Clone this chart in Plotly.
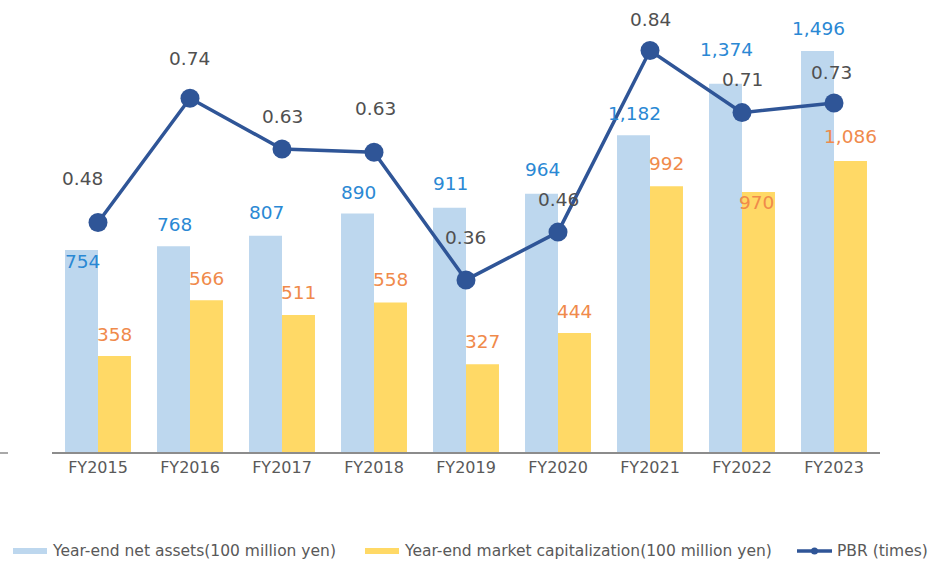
import plotly.graph_objects as go

categories = ["FY2015", "FY2016", "FY2017", "FY2018", "FY2019", "FY2020", "FY2021", "FY2022", "FY2023"]
net_assets = [754, 768, 807, 890, 911, 964, 1182, 1374, 1496]
market_cap = [358, 566, 511, 558, 327, 444, 992, 970, 1086]
pbr = [0.48, 0.74, 0.634, 0.627, 0.36, 0.46, 0.84, 0.71, 0.73]

net_label_yshift = [-12, 22, 23, 21, 24, 24, 22, 34, 23]
mkt_label_yshift = [22, 22, 23, 23, 23, 22, 23, -10, 24]
mkt_label_xshift = [16, 16, 16, 16, 16, 16, 16, 14, 16]
pbr_label_yshift = [44, 40, 32, 44, 42, 33, 31, 33, 31]
pbr_label_xshift = [-16, -1, 0, 1, -1, 0, 0, 0, -3]

FONT = "Verdana, DejaVu Sans, sans-serif"
C_NET = "#BDD7EE"
C_MKT = "#FFD966"
C_LINE = "#2F5597"
C_NET_TXT = "#2A88D4"
C_MKT_TXT = "#F08A4B"
C_PBR_TXT = "#505050"
C_AXIS_TXT = "#595959"

W, H = 932, 562
ML, MR, MT, MB = 52, 52, 10, 110
PW = W - ML - MR
PH = H - MT - MB

fig = go.Figure()
fig.add_trace(go.Bar(x=categories, y=net_assets, name="Year-end net assets(100 million yen)",
                     marker=dict(color=C_NET, line=dict(width=0)), showlegend=False))
fig.add_trace(go.Bar(x=categories, y=market_cap, name="Year-end market capitalization(100 million yen)",
                     marker=dict(color=C_MKT, line=dict(width=0)), showlegend=False))
fig.add_trace(go.Scatter(x=categories, y=pbr, name="PBR (times)", yaxis="y2", mode="lines+markers",
                         line=dict(color=C_LINE, width=3.5), marker=dict(color=C_LINE, size=19),
                         showlegend=False))

annotations = []
for c, v, ys in zip(categories, net_assets, net_label_yshift):
    annotations.append(dict(x=c, y=v, xref="x", yref="y", text=f"{v:,}", showarrow=False,
                            xshift=-16, yshift=ys, font=dict(family=FONT, size=18.5, color=C_NET_TXT)))
for c, v, ys, xs in zip(categories, market_cap, mkt_label_yshift, mkt_label_xshift):
    annotations.append(dict(x=c, y=v, xref="x", yref="y", text=f"{v:,}", showarrow=False,
                            xshift=xs, yshift=ys, font=dict(family=FONT, size=18.5, color=C_MKT_TXT)))
for c, v, ys, xs in zip(categories, pbr, pbr_label_yshift, pbr_label_xshift):
    annotations.append(dict(x=c, y=v, xref="x", yref="y2", text=f"{v:.2f}", showarrow=False,
                            xshift=xs, yshift=ys, font=dict(family=FONT, size=18.5, color=C_PBR_TXT)))


def px_x(px):
    return (px - ML) / PW


def px_y(py):
    return (H - MB - py) / PH


legend_y = 551
legend_items = [
    ("rect", 13, 47, 50, C_NET, "Year-end net assets(100 million yen)"),
    ("rect", 365, 399, 402, C_MKT, "Year-end market capitalization(100 million yen)"),
    ("line", 797, 832, 835, C_LINE, "PBR (times)"),
]
shapes = []
for kind, x0, x1, tx, col, label in legend_items:
    if kind == "rect":
        shapes.append(dict(type="rect", xref="paper", yref="paper", x0=px_x(x0), x1=px_x(x1),
                           y0=px_y(legend_y + 3), y1=px_y(legend_y - 3), fillcolor=col, line=dict(width=0)))
    else:
        shapes.append(dict(type="line", xref="paper", yref="paper", x0=px_x(x0), x1=px_x(x1),
                           y0=px_y(legend_y), y1=px_y(legend_y), line=dict(color=col, width=3.5)))
        mid = (x0 + x1) / 2
        shapes.append(dict(type="circle", xref="paper", yref="paper", x0=px_x(mid - 3.5), x1=px_x(mid + 3.5),
                           y0=px_y(legend_y + 3.5), y1=px_y(legend_y - 3.5), fillcolor=col, line=dict(width=0)))
    annotations.append(dict(x=px_x(tx), y=px_y(legend_y), xref="paper", yref="paper", text=label,
                            showarrow=False, xanchor="left", yanchor="middle",
                            font=dict(family=FONT, size=15.5, color=C_AXIS_TXT)))

# small stray tick at the far left edge of the original
shapes.append(dict(type="line", xref="paper", yref="paper", x0=px_x(0), x1=px_x(8),
                   y0=px_y(453), y1=px_y(453), line=dict(color="#8c8c8c", width=1.5)))

fig.update_layout(
    width=W, height=H,
    margin=dict(l=ML, r=MR, t=MT, b=MB),
    paper_bgcolor="white", plot_bgcolor="white",
    barmode="group", bargap=0.283, bargroupgap=0,
    showlegend=False,
    font=dict(family=FONT, color=C_AXIS_TXT),
    xaxis=dict(range=[-0.5, len(categories) - 0.5], showline=True, linecolor="#8c8c8c", linewidth=1.5,
               showgrid=False, ticks="", tickfont=dict(family=FONT, size=16, color=C_AXIS_TXT)),
    yaxis=dict(range=[0, PH / 0.268], showgrid=False, showticklabels=False, zeroline=False, showline=False),
    yaxis2=dict(range=[0, PH / 478], overlaying="y", side="right", showgrid=False, showticklabels=False,
                zeroline=False, showline=False),
    annotations=annotations,
    shapes=shapes,
)

fig.write_html("out.html")
